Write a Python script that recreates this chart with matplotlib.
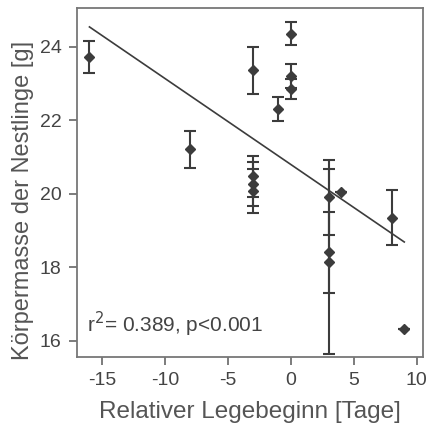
import numpy as np
import matplotlib
matplotlib.use("Agg")
import matplotlib.pyplot as plt

plt.rcParams['font.family'] = ['Liberation Sans', 'DejaVu Sans']
plt.rcParams['axes.unicode_minus'] = False

# relative laying date (days) vs. nestling body mass (g)
legebeginn = [-16, -8, -3, -3, -3, -3, -1, 0, 0, 0, 3, 3, 3, 4, 8, 9]
masse = [23.72, 21.2, 23.35, 20.47, 20.27, 20.08, 22.3, 24.35, 23.2, 22.85,
         19.9, 18.4, 18.15, 20.05, 19.34, 16.33]
fehler = [0.43, 0.5, 0.65, 0.55, 0.6, 0.6, 0.33, 0.31, 0.33, 0.27,
          1.02, 1.09, 2.52, 0.0, 0.75, 0.0]

# regression line
steigung = -0.234
achse = 20.79
fit_x = [-16, 9]
r2_text = "r$^2$= 0.389, p<0.001"

grau = '#3c3c3c'

fig = plt.figure(figsize=(4.27, 4.41), dpi=100)
ax = fig.add_axes([0.180, 0.190, 0.811, 0.792])

ax.errorbar(legebeginn, masse, yerr=fehler, fmt='D', color=grau, ms=5.5,
            ecolor=grau, elinewidth=1.5, capsize=4.5, capthick=1.5, zorder=3)
fx = np.array(fit_x)
ax.plot(fx, achse + steigung * fx, color=grau, lw=1.2, zorder=2)

ax.text(-16.2, 16.22, r2_text, fontsize=15, color='#444444', va='baseline')

ax.set_xlim(-17, 10.5)
ax.set_ylim(15.55, 25.05)
ax.set_xticks([-15, -10, -5, 0, 5, 10])
ax.set_yticks([16, 18, 20, 22, 24])
ax.tick_params(direction='out', length=6, width=1.2, color='#666666', pad=5,
               labelsize=14, labelcolor='#444444', top=False, right=False)
for s in ax.spines.values():
    s.set_color('#777777')
    s.set_linewidth(1.3)

ax.set_xlabel('Relativer Legebeginn [Tage]', fontsize=17.5, color='#555555', labelpad=8)
ax.set_ylabel('Körpermasse der Nestlinge [g]', fontsize=17, color='#555555')
ax.yaxis.set_label_coords(-0.125, 0.45)

fig.savefig('out.png', dpi=100)
